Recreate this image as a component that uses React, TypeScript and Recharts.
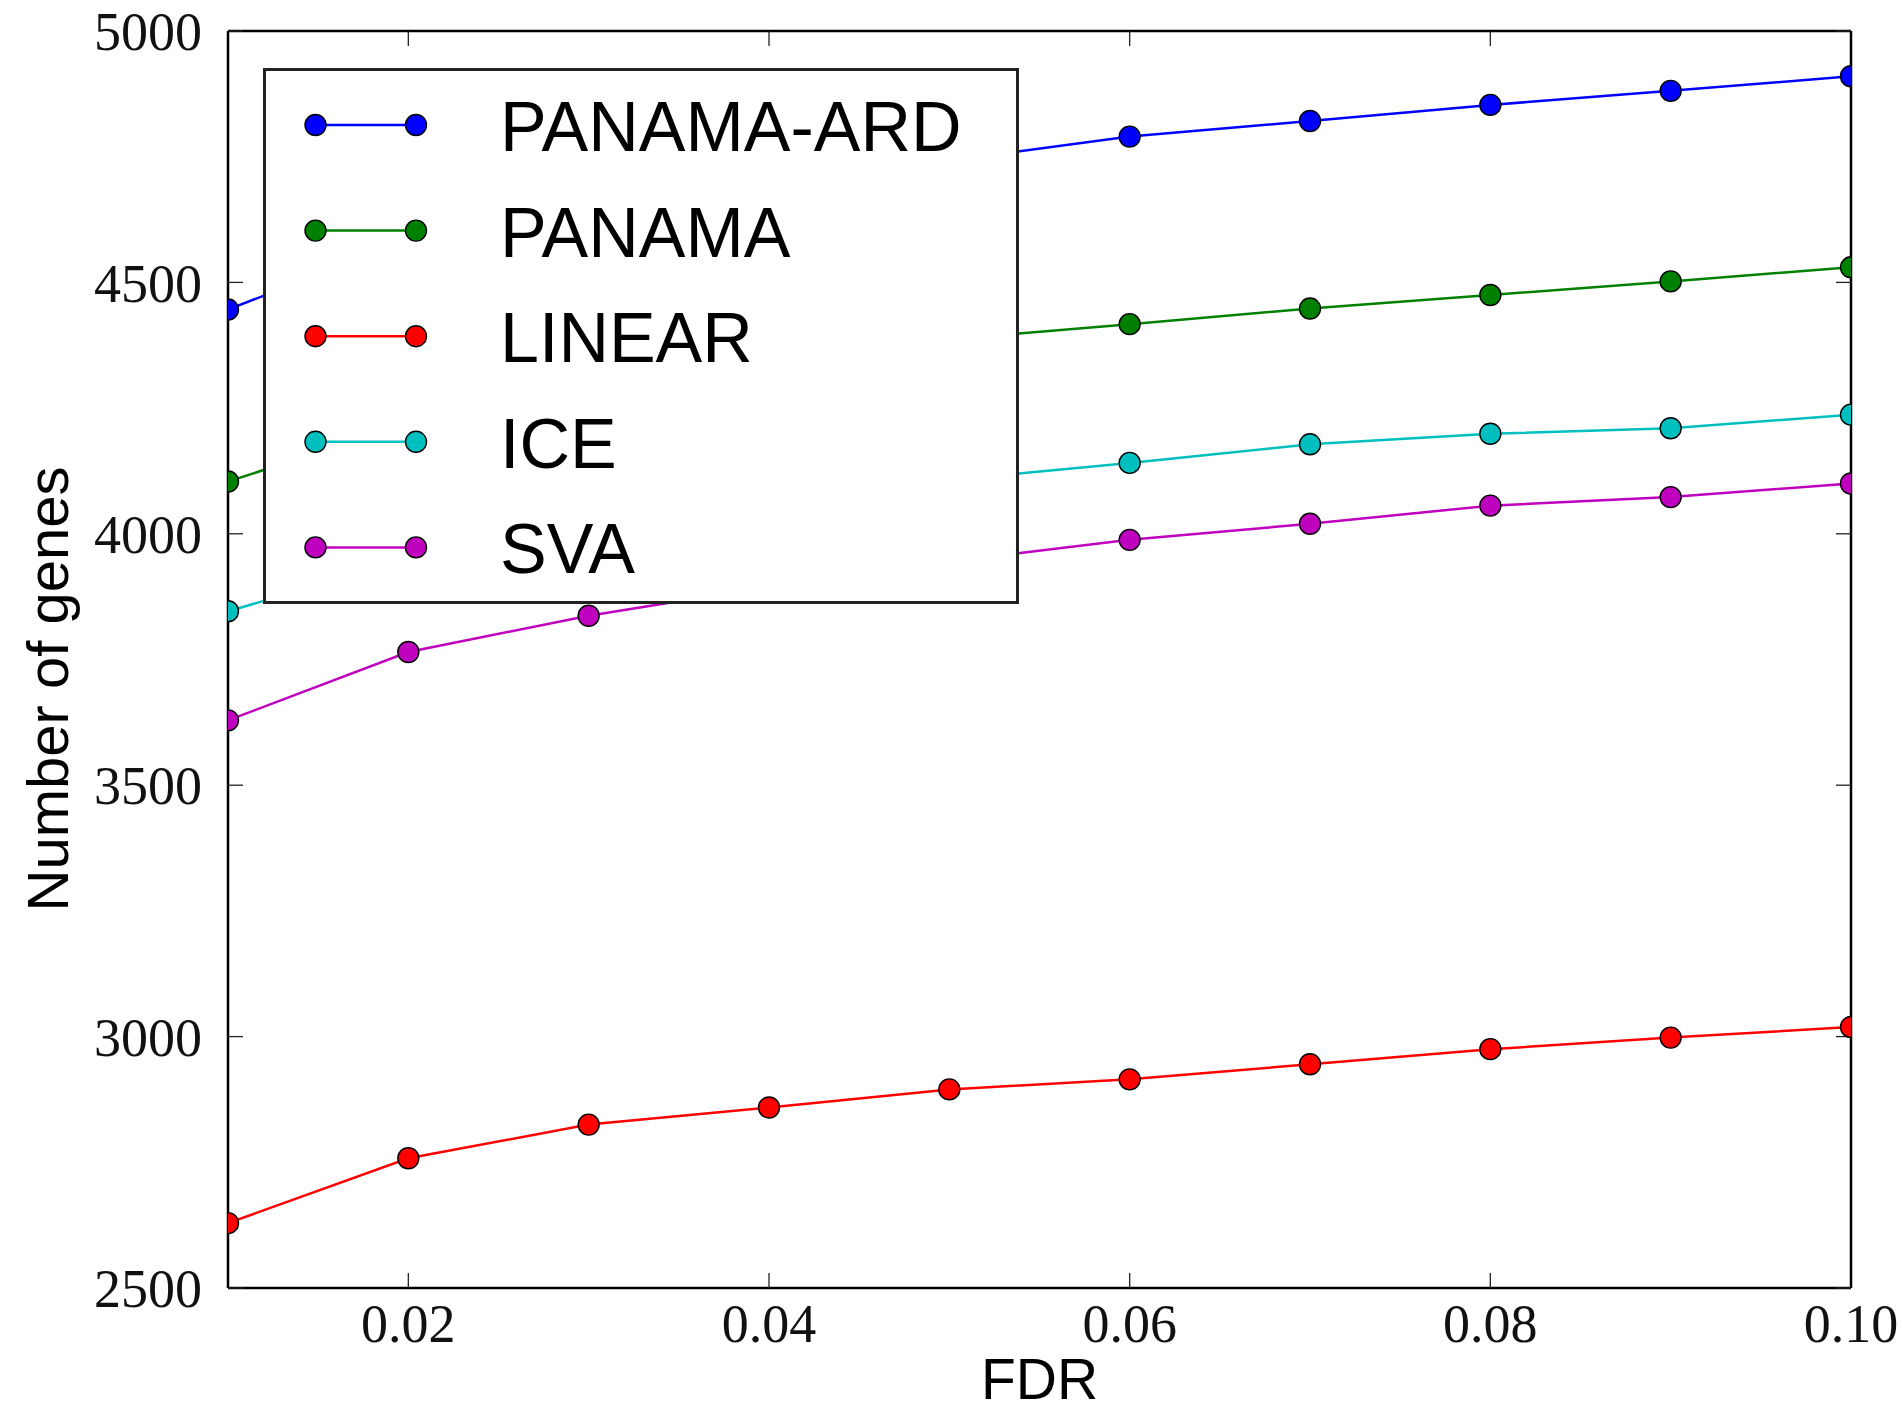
import React from 'react';
import { LineChart, Line, XAxis, YAxis, Legend, Customized } from 'recharts';

// ---- data ----
const fdr = [0.01, 0.02, 0.03, 0.04, 0.05, 0.06, 0.07, 0.08, 0.09, 0.1];
const panamaArd = [4446, 4585, 4650, 4705, 4742, 4790, 4821, 4853, 4881, 4910];
const panama = [4104, 4220, 4285, 4340, 4387, 4417, 4448, 4475, 4502, 4530];
const linear = [2629, 2758, 2825, 2859, 2895, 2915, 2945, 2975, 2998, 3019];
const ice = [3846, 3950, 4010, 4065, 4107, 4141, 4178, 4199, 4210, 4237];
const sva = [3629, 3765, 3837, 3895, 3945, 3988, 4020, 4056, 4073, 4100];

const seriesNames = ['PANAMA-ARD', 'PANAMA', 'LINEAR', 'ICE', 'SVA'];
const seriesColors = ['#0000ff', '#008000', '#ff0000', '#00bfbf', '#bf00bf'];
const seriesValues = [panamaArd, panama, linear, ice, sva];

const xTicks = [0.02, 0.04, 0.06, 0.08, 0.1];
const yTicks = [2500, 3000, 3500, 4000, 4500, 5000];
const xLabel = 'FDR';
const yLabel = 'Number of genes';

const data = fdr.map((x, i) => {
  const row: Record<string, number> = { fdr: x };
  seriesValues.forEach((vals, s) => {
    row['s' + s] = vals[i];
  });
  return row;
});

// ---- layout ----
const W = 1903;
const H = 1414;
const PLOT = { left: 228, top: 31, right: 1851, bottom: 1288 };

const tickFont = { fill: '#111', fontFamily: 'Liberation Serif', fontSize: 54 };
const frameLine = { stroke: '#000', strokeWidth: 2.5 };
const tickLineStyle = { stroke: '#222', strokeWidth: 1.3 };

const makeDot = (color: string) => (props: any) => {
  const { cx, cy, index } = props;
  if (cx == null || cy == null) return <g key={`d-${color}-${index}`} />;
  return (
    <circle
      key={`d-${color}-${index}`}
      cx={cx}
      cy={cy}
      r={10.5}
      fill={color}
      stroke="#000"
      strokeWidth={1.4}
      clipPath="url(#plot-clip)"
    />
  );
};

const LegendBox = () => {
  const bw = 756;
  const bh = 536;
  return (
    <svg width={bw} height={bh} style={{ display: 'block' }}>
      <rect x={1.5} y={1.5} width={bw - 3} height={bh - 3} fill="#fff" stroke="#222" strokeWidth={3} />
      {seriesNames.map((name, i) => {
        const cy = 57 + i * 105.6;
        const c = seriesColors[i];
        return (
          <g key={name}>
            <line x1={52.5} x2={153} y1={cy} y2={cy} stroke={c} strokeWidth={2.5} />
            <circle cx={52.5} cy={cy} r={10.5} fill={c} stroke="#000" strokeWidth={1.4} />
            <circle cx={153} cy={cy} r={10.5} fill={c} stroke="#000" strokeWidth={1.4} />
            <text x={237} y={cy + 26} fontFamily="Liberation Sans" fontSize={70} fill="#000">
              {name}
            </text>
          </g>
        );
      })}
    </svg>
  );
};

export default function App() {
  return (
    <div style={{ position: 'absolute', left: 0, top: 0, width: W, height: H, overflow: 'hidden', background: '#fff' }}>
      <LineChart width={W} height={H} data={data} margin={{ top: 0, right: 0, bottom: 0, left: 0 }}>
        <Customized
          component={() => (
            <defs>
              <clipPath id="plot-clip">
                <rect x={PLOT.left} y={PLOT.top} width={PLOT.right - PLOT.left} height={PLOT.bottom - PLOT.top} />
              </clipPath>
            </defs>
          )}
        />
        <XAxis
          xAxisId="bottom"
          dataKey="fdr"
          type="number"
          orientation="bottom"
          domain={[0.01, 0.1]}
          ticks={xTicks}
          interval={0}
          allowDataOverflow
          tickFormatter={(v: number) => v.toFixed(2)}
          height={H - PLOT.bottom}
          tickSize={-15}
          tickMargin={31}
          axisLine={frameLine}
          tickLine={tickLineStyle}
          tick={tickFont}
          label={{
            content: () => (
              <text x={(PLOT.left + PLOT.right) / 2} y={1399} textAnchor="middle" fontFamily="Liberation Sans" fontSize={57} fill="#000">
                {xLabel}
              </text>
            ),
          }}
        />
        <XAxis
          xAxisId="top"
          dataKey="fdr"
          type="number"
          orientation="top"
          domain={[0.01, 0.1]}
          ticks={xTicks}
          interval={0}
          allowDataOverflow
          tickFormatter={() => ''}
          height={PLOT.top}
          tickSize={-15}
          axisLine={frameLine}
          tickLine={tickLineStyle}
        />
        <YAxis
          yAxisId="left"
          type="number"
          orientation="left"
          domain={[2500, 5000]}
          ticks={yTicks}
          interval={0}
          allowDataOverflow
          width={PLOT.left}
          tickSize={-15}
          tickMargin={41}
          axisLine={frameLine}
          tickLine={tickLineStyle}
          tick={tickFont}
          label={{
            content: () => (
              <text
                x={68}
                y={689}
                transform="rotate(-90, 68, 689)"
                textAnchor="middle"
                fontFamily="Liberation Sans"
                fontSize={58}
                fill="#000"
              >
                {yLabel}
              </text>
            ),
          }}
        />
        <YAxis
          yAxisId="right"
          type="number"
          orientation="right"
          domain={[2500, 5000]}
          ticks={yTicks}
          interval={0}
          allowDataOverflow
          width={W - PLOT.right}
          tickSize={-15}
          tickFormatter={() => ''}
          axisLine={frameLine}
          tickLine={tickLineStyle}
        />
        {seriesNames.map((name, i) => (
          <Line
            key={name}
            name={name}
            xAxisId="bottom"
            yAxisId="left"
            type="linear"
            dataKey={'s' + i}
            stroke={seriesColors[i]}
            strokeWidth={2.5}
            dot={makeDot(seriesColors[i])}
            activeDot={false}
            isAnimationActive={false}
          />
        ))}
        <Legend
          layout="horizontal"
          verticalAlign="middle"
          align="center"
          wrapperStyle={{ left: 263, top: 68, width: 756, height: 536 }}
          content={() => <LegendBox />}
        />
      </LineChart>
    </div>
  );
}
